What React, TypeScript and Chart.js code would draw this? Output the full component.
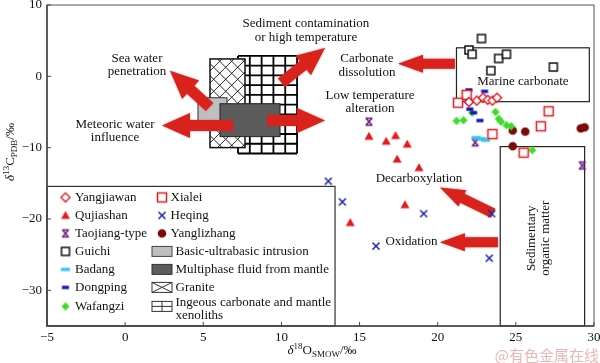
import React, { useEffect, useRef } from 'react';
import { Chart, registerables } from 'chart.js';

Chart.register(...registerables);

// ---------- axes ----------
const xTickValues = [-5, 0, 5, 10, 15, 20, 25, 30];
const yTickValues = [-30, -20, -10, 0, 10];
const X_MIN = -5, X_MAX = 30, Y_MIN = -35, Y_MAX = 10;

// ---------- series ----------
const yangjiawanX = [22.0, 22.5, 22.9, 23.2, 23.5, 23.8];
const yangjiawanY = [-3.6, -3.4, -3.0, -3.3, -3.4, -3.0];
const xialeiX = [21.85, 21.3, 23.5, 26.6, 27.1, 25.5];
const xialeiY = [-2.6, -3.7, -8.1, -7.0, -4.9, -10.7];
const qujiashanX = [15.6, 16.7, 17.3, 18.05, 17.4, 18.8, 17.9, 14.4];
const qujiashanY = [-8.4, -9.1, -8.3, -9.5, -11.6, -12.8, -18.0, -20.5];
const heqingX = [13.0, 13.9, 19.1, 23.45, 16.05, 23.3];
const heqingY = [-14.7, -17.6, -19.25, -19.25, -23.8, -25.5];
const taojiangX = [15.6, 22.4, 29.25];
const taojiangY = [-6.35, -9.25, -12.5];
const yanglizhangX = [24.8, 25.6, 24.8, 29.15, 29.4];
const yanglizhangY = [-7.6, -7.75, -9.8, -7.3, -7.15];
const guichiX = [22.8, 22.0, 22.2, 23.9, 24.4, 23.4, 27.4];
const guichiY = [5.3, 3.7, 3.1, 2.5, 3.1, 0.8, 1.3];
const badangX = [22.45, 22.8, 23.05];
const badangY = [-8.6, -8.75, -8.95];
const dongpingX = [22.0, 23.0, 21.95, 22.05, 22.3, 22.7];
const dongpingY = [-1.9, -2.1, -3.4, -4.6, -5.1, -6.2];
const wafangziX = [21.2, 21.65, 22.2, 23.7, 23.9, 24.05, 24.4, 24.7, 26.05];
const wafangziY = [-6.25, -6.15, -5.1, -5.0, -5.95, -6.35, -6.85, -7.0, -10.35];

// ---------- field regions (x1, x2, y1, y2) in data units ----------
const igneousRegion = [7.22, 11.0, 2.86, -10.82];
const graniteRegion = [5.43, 7.67, 2.44, -9.99];
const basicRegion = [4.66, 6.52, -3.0, -6.49];
const multiphaseRegion = [6.07, 9.91, -3.84, -8.45];
const marineRegion = [21.2, 29.7, 4.0, -3.55];
const sedimentRegion = [24.0, 29.4, -9.85, -35];
const legendRegion = [-5, 13.43, -15.43, -35];

// ---------- arrows: tail (x1,y1) -> tip (x2,y2) ----------
const arrowTailX = [5.4, 6.9, 10.0, 9.1, 21.1, 23.55, 23.85];
const arrowTailY = [-4.3, -6.9, -0.9, -6.2, 1.75, -19.2, -23.25];
const arrowTipX = [2.87, 2.36, 12.79, 12.79, 17.46, 20.14, 20.14];
const arrowTipY = [0.77, -6.9, 3.98, -6.2, 1.75, -15.57, -23.25];
const arrowBig = [true, true, true, true, false, false, false];

// ---------- annotation labels ----------
const noteLines = [
  ['Sea water', 'penetration'],
  ['Meteoric water', 'influence'],
  ['Sediment contamination', 'or high temperature'],
  ['Carbonate', 'dissolution'],
  ['Low temperature', 'alteration'],
  ['Decarboxylation'],
  ['Oxidation'],
  ['Marine carbonate'],
];
const noteX = [0.76, -0.65, 11.57, 15.47, 15.67, 18.8, 18.32, 25.45];
const noteY = [1.6, -7.68, 6.42, 1.54, -3.63, -14.3, -23.1, -0.77];
const sedimentNote = ['Sedimentary', 'organic matter'];
const sedimentNoteX = 26.48, sedimentNoteY = -22.7;

// ---------- legend ----------
const legendCol1 = ['Yangjiawan', 'Qujiashan', 'Taojiang-type', 'Guichi', 'Badang', 'Dongping', 'Wafangzi'];
const legendCol2 = ['Xialei', 'Heqing', 'Yanglizhang'];
const legendPatches = ['Basic-ultrabasic intrusion', 'Multiphase fluid from mantle', 'Granite'];
const legendLast = ['Ingeous carbonate and mantle', 'xenoliths'];

const SERIF = '"Liberation Serif", "Times New Roman", serif';
const RED = '#e31b1f';

function mk(draw: (g: CanvasRenderingContext2D) => void) {
  const c = document.createElement('canvas');
  c.width = 14; c.height = 14;
  const g = c.getContext('2d')!;
  draw(g);
  return c;
}

function makeMarkers() {
  return {
    yangjiawan: mk(g => {
      g.beginPath(); g.moveTo(7, 2.5); g.lineTo(11.5, 7); g.lineTo(7, 11.5); g.lineTo(2.5, 7); g.closePath();
      g.fillStyle = '#fff'; g.fill(); g.lineWidth = 1.4; g.strokeStyle = RED; g.stroke();
    }),
    xialei: mk(g => {
      g.fillStyle = '#fff'; g.fillRect(2.5, 2.5, 9, 9);
      g.lineWidth = 1.5; g.strokeStyle = RED; g.strokeRect(2.5, 2.5, 9, 9);
    }),
    qujiashan: mk(g => {
      g.beginPath(); g.moveTo(7, 2.5); g.lineTo(11.5, 10.5); g.lineTo(2.5, 10.5); g.closePath();
      g.fillStyle = RED; g.fill();
    }),
    heqing: mk(g => {
      g.beginPath(); g.moveTo(3.5, 3.5); g.lineTo(10.5, 10.5); g.moveTo(10.5, 3.5); g.lineTo(3.5, 10.5);
      g.lineWidth = 1.6; g.strokeStyle = '#1c2aa6'; g.stroke();
    }),
    taojiang: mk(g => {
      g.beginPath();
      g.moveTo(4, 3.5); g.lineTo(10, 10.5); g.moveTo(10, 3.5); g.lineTo(4, 10.5);
      g.moveTo(3.5, 3.5); g.lineTo(10.5, 3.5); g.moveTo(3.5, 10.5); g.lineTo(10.5, 10.5);
      g.lineWidth = 1.6; g.strokeStyle = '#6d1f7e'; g.stroke();
    }),
    yanglizhang: mk(g => {
      g.beginPath(); g.arc(7, 7, 4.3, 0, Math.PI * 2); g.fillStyle = '#7a0b0b'; g.fill();
    }),
    guichi: mk(g => {
      g.fillStyle = '#fff'; g.fillRect(3, 3, 8, 8);
      g.lineWidth = 1.5; g.strokeStyle = '#111'; g.strokeRect(3, 3, 8, 8);
    }),
    badang: mk(g => { g.fillStyle = '#38c4ee'; g.fillRect(2.5, 5.3, 9, 3.4); }),
    dongping: mk(g => { g.fillStyle = '#1515b8'; g.fillRect(3.5, 5.3, 7, 3.4); }),
    wafangzi: mk(g => {
      g.beginPath(); g.moveTo(7, 2.8); g.lineTo(11, 7); g.lineTo(7, 11.2); g.lineTo(3, 7); g.closePath();
      g.fillStyle = '#3ddc2a'; g.fill();
    }),
  };
}

function fmt(v: number) {
  return v < 0 ? '\u2212' + Math.abs(v) : String(v);
}

type Seg = { t: string; size: number; dy: number; italic?: boolean };

function drawRich(ctx: CanvasRenderingContext2D, segs: Seg[], cx: number, cy: number) {
  let total = 0;
  const widths = segs.map(s => {
    ctx.font = `${s.italic ? 'italic ' : ''}${s.size}px ${SERIF}`;
    const w = ctx.measureText(s.t).width;
    total += w;
    return w;
  });
  let x = cx - total / 2;
  ctx.textAlign = 'left';
  ctx.textBaseline = 'alphabetic';
  segs.forEach((s, i) => {
    ctx.font = `${s.italic ? 'italic ' : ''}${s.size}px ${SERIF}`;
    ctx.fillText(s.t, x, cy + s.dy);
    x += widths[i];
  });
}

function drawArrow(ctx: CanvasRenderingContext2D, x1: number, y1: number, x2: number, y2: number,
  shaft: number, headW: number, headL: number) {
  const dx = x2 - x1, dy = y2 - y1, len = Math.hypot(dx, dy);
  const ux = dx / len, uy = dy / len, nx = -uy, ny = ux;
  const bx = x2 - ux * headL, by = y2 - uy * headL;
  ctx.beginPath();
  ctx.moveTo(x1 + nx * shaft / 2, y1 + ny * shaft / 2);
  ctx.lineTo(bx + nx * shaft / 2, by + ny * shaft / 2);
  ctx.lineTo(bx + nx * headW / 2, by + ny * headW / 2);
  ctx.lineTo(x2, y2);
  ctx.lineTo(bx - nx * headW / 2, by - ny * headW / 2);
  ctx.lineTo(bx - nx * shaft / 2, by - ny * shaft / 2);
  ctx.lineTo(x1 - nx * shaft / 2, y1 - ny * shaft / 2);
  ctx.closePath();
  ctx.fill();
}

export default function App() {
  const ref = useRef<HTMLCanvasElement | null>(null);

  useEffect(() => {
    const canvas = ref.current!;
    const M = makeMarkers();

    const mkData = (xs: number[], ys: number[]) => xs.map((x, i) => ({ x, y: ys[i] }));
    const ds = (label: string, xs: number[], ys: number[], style: HTMLCanvasElement) => ({
      label, data: mkData(xs, ys), pointStyle: style, showLine: false,
    });

    const rectPx = (chart: any, r: number[]) => {
      const xs = chart.scales.x, ys = chart.scales.y;
      const a = xs.getPixelForValue(r[0]), b = xs.getPixelForValue(r[1]);
      const c = ys.getPixelForValue(r[2]), d = ys.getPixelForValue(r[3]);
      return { x: Math.min(a, b), y: Math.min(c, d), w: Math.abs(b - a), h: Math.abs(d - c) };
    };

    const drawGrid = (ctx: CanvasRenderingContext2D, x: number, y: number, w: number, h: number, cols: number, rows: number, lw: number) => {
      ctx.fillStyle = '#fff';
      ctx.fillRect(x, y, w, h);
      ctx.strokeStyle = '#000';
      ctx.lineWidth = lw;
      ctx.beginPath();
      for (let i = 0; i <= cols; i++) { const xx = x + (w * i) / cols; ctx.moveTo(xx, y); ctx.lineTo(xx, y + h); }
      for (let j = 0; j <= rows; j++) { const yy = y + (h * j) / rows; ctx.moveTo(x, yy); ctx.lineTo(x + w, yy); }
      ctx.stroke();
    };

    const drawHatch = (ctx: CanvasRenderingContext2D, x: number, y: number, w: number, h: number, sp: number) => {
      ctx.save();
      ctx.fillStyle = '#fff';
      ctx.fillRect(x, y, w, h);
      ctx.beginPath(); ctx.rect(x, y, w, h); ctx.clip();
      ctx.strokeStyle = '#111'; ctx.lineWidth = 0.9;
      ctx.beginPath();
      for (let k = -h; k < w + h; k += sp) {
        ctx.moveTo(x + k, y); ctx.lineTo(x + k + h, y + h);
        ctx.moveTo(x + k, y + h); ctx.lineTo(x + k + h, y);
      }
      ctx.stroke();
      ctx.restore();
      ctx.strokeStyle = '#111'; ctx.lineWidth = 1.5;
      ctx.strokeRect(x, y, w, h);
    };

    const overlay = {
      id: 'overlay',
      beforeDatasetsDraw(chart: any) {
        const ctx: CanvasRenderingContext2D = chart.ctx;
        const sx = chart.scales.x, sy = chart.scales.y;
        ctx.save();
        let r = rectPx(chart, igneousRegion);
        drawGrid(ctx, r.x, r.y, r.w, r.h, 5, 10, 1.8);
        r = rectPx(chart, graniteRegion);
        drawHatch(ctx, r.x, r.y, r.w, r.h, 12);
        r = rectPx(chart, basicRegion);
        ctx.fillStyle = '#bfbfbf'; ctx.fillRect(r.x, r.y, r.w, r.h);
        ctx.strokeStyle = '#333'; ctx.lineWidth = 1; ctx.strokeRect(r.x, r.y, r.w, r.h);
        r = rectPx(chart, multiphaseRegion);
        ctx.fillStyle = '#5c5c5c'; ctx.fillRect(r.x, r.y, r.w, r.h);
        ctx.strokeStyle = '#222'; ctx.lineWidth = 1; ctx.strokeRect(r.x, r.y, r.w, r.h);
        ctx.strokeStyle = '#222'; ctx.lineWidth = 1.2;
        r = rectPx(chart, marineRegion);
        ctx.strokeRect(r.x, r.y, r.w, r.h);
        r = rectPx(chart, sedimentRegion);
        ctx.strokeRect(r.x, r.y, r.w, r.h);
        ctx.fillStyle = '#d9221c';
        ctx.shadowColor = 'rgba(200,30,30,0.55)';
        ctx.shadowBlur = 2;
        arrowTailX.forEach((_, i) => {
          const x1 = sx.getPixelForValue(arrowTailX[i]), y1 = sy.getPixelForValue(arrowTailY[i]);
          const x2 = sx.getPixelForValue(arrowTipX[i]), y2 = sy.getPixelForValue(arrowTipY[i]);
          if (arrowBig[i]) drawArrow(ctx, x1, y1, x2, y2, 11, 25, 28);
          else drawArrow(ctx, x1, y1, x2, y2, 10, 18, 25);
        });
        ctx.restore();
      },
      afterDatasetsDraw(chart: any) {
        const ctx: CanvasRenderingContext2D = chart.ctx;
        const sx = chart.scales.x, sy = chart.scales.y;
        const ca = chart.chartArea;
        ctx.save();
        ctx.fillStyle = '#111';
        ctx.font = `13px ${SERIF}`;
        ctx.textAlign = 'center';
        ctx.textBaseline = 'middle';
        noteLines.forEach((lines, i) => {
          const cx = sx.getPixelForValue(noteX[i]), cy = sy.getPixelForValue(noteY[i]);
          const n = lines.length;
          lines.forEach((t, j) => ctx.fillText(t, cx, cy + (j - (n - 1) / 2) * 13.5));
        });
        ctx.save();
        ctx.translate(sx.getPixelForValue(sedimentNoteX), sy.getPixelForValue(sedimentNoteY));
        ctx.rotate(-Math.PI / 2);
        sedimentNote.forEach((t, j) => ctx.fillText(t, 0, (j - 0.5) * 14));
        ctx.restore();

        // legend
        const L = rectPx(chart, legendRegion);
        ctx.fillStyle = '#fff';
        ctx.fillRect(L.x, L.y, L.w, L.h);
        ctx.strokeStyle = '#333'; ctx.lineWidth = 1.2;
        ctx.strokeRect(L.x, L.y, L.w, L.h);
        const rowY = [11, 29, 47, 65, 83, 101, 120].map(v => L.y + v);
        const c1m = L.x + 18.5, c1t = L.x + 28, c2m = L.x + 115, c2t = L.x + 123.5, c2p = L.x + 105, c2pt = L.x + 128.5;
        const col1Markers = [M.yangjiawan, M.qujiashan, M.taojiang, M.guichi, M.badang, M.dongping, M.wafangzi];
        const col2Markers = [M.xialei, M.heqing, M.yanglizhang];
        ctx.textAlign = 'left';
        ctx.textBaseline = 'middle';
        ctx.fillStyle = '#111';
        ctx.font = `13px ${SERIF}`;
        legendCol1.forEach((t, i) => {
          ctx.drawImage(col1Markers[i], c1m - 7, rowY[i] - 7);
          ctx.fillText(t, c1t, rowY[i]);
        });
        legendCol2.forEach((t, i) => {
          ctx.drawImage(col2Markers[i], c2m - 7, rowY[i] - 7);
          ctx.fillText(t, c2t, rowY[i]);
        });
        const pw = 20, ph = 10;
        let py = rowY[3] - ph / 2;
        ctx.fillStyle = '#bfbfbf'; ctx.fillRect(c2p, py, pw, ph);
        ctx.strokeStyle = '#444'; ctx.lineWidth = 1; ctx.strokeRect(c2p, py, pw, ph);
        py = rowY[4] - ph / 2;
        ctx.fillStyle = '#5c5c5c'; ctx.fillRect(c2p, py, pw, ph);
        ctx.strokeStyle = '#333'; ctx.strokeRect(c2p, py, pw, ph);
        py = rowY[5] - ph / 2;
        ctx.fillStyle = '#fff'; ctx.fillRect(c2p, py, pw, ph);
        ctx.strokeStyle = '#333'; ctx.strokeRect(c2p, py, pw, ph);
        ctx.beginPath(); ctx.moveTo(c2p, py); ctx.lineTo(c2p + pw, py + ph); ctx.moveTo(c2p + pw, py); ctx.lineTo(c2p, py + ph); ctx.stroke();
        py = rowY[6] - ph / 2;
        ctx.fillStyle = '#fff'; ctx.fillRect(c2p, py, pw, ph);
        ctx.strokeStyle = '#333'; ctx.strokeRect(c2p, py, pw, ph);
        ctx.beginPath(); ctx.moveTo(c2p + pw / 2, py); ctx.lineTo(c2p + pw / 2, py + ph); ctx.moveTo(c2p, py + ph / 2); ctx.lineTo(c2p + pw, py + ph / 2); ctx.stroke();
        ctx.fillStyle = '#111';
        legendPatches.forEach((t, i) => ctx.fillText(t, c2pt, rowY[3 + i]));
        ctx.fillText(legendLast[0], c2pt, rowY[6] - 4);
        ctx.fillText(legendLast[1], c2pt, rowY[6] + 9);

        // frame
        ctx.strokeStyle = '#555'; ctx.lineWidth = 1;
        ctx.strokeRect(ca.left, ca.top, ca.right - ca.left, ca.bottom - ca.top);
        ctx.strokeStyle = '#444'; ctx.lineWidth = 1.5;
        ctx.beginPath();
        ctx.moveTo(ca.left, ca.top); ctx.lineTo(ca.left, ca.bottom); ctx.lineTo(ca.right, ca.bottom);
        ctx.stroke();
        ctx.lineWidth = 1;
        ctx.beginPath();
        xTickValues.forEach(v => {
          const x = sx.getPixelForValue(v);
          ctx.moveTo(x, ca.bottom); ctx.lineTo(x, ca.bottom - 4);
        });
        yTickValues.forEach(v => {
          const y = sy.getPixelForValue(v);
          ctx.moveTo(ca.left, y); ctx.lineTo(ca.left + 4, y);
        });
        ctx.stroke();

        // axis titles
        ctx.fillStyle = '#111';
        drawRich(ctx, [
          { t: '\u03b4', size: 13, dy: 0, italic: true },
          { t: '18', size: 9, dy: -5 },
          { t: 'O', size: 13, dy: 0 },
          { t: 'SMOW', size: 9, dy: 3 },
          { t: '/\u2030', size: 13, dy: 0 },
        ], 322, 354);
        ctx.save();
        ctx.translate(14, 152);
        ctx.rotate(-Math.PI / 2);
        drawRich(ctx, [
          { t: '\u03b4', size: 13, dy: 0, italic: true },
          { t: '13', size: 9, dy: -5 },
          { t: 'C', size: 13, dy: 0 },
          { t: 'PDB', size: 9, dy: 3 },
          { t: '/\u2030', size: 13, dy: 0 },
        ], 0, 0);
        ctx.restore();

        // watermark
        ctx.font = `15px "Noto Sans CJK SC", sans-serif`;
        ctx.fillStyle = 'rgba(228,150,150,0.7)';
        ctx.textAlign = 'right';
        ctx.textBaseline = 'middle';
        ctx.fillText('@有色金属在线', 599, 355);
        ctx.restore();
      },
    };

    const chart = new Chart(canvas, {
      type: 'scatter',
      data: {
        datasets: [
          ds('Yangjiawan', yangjiawanX, yangjiawanY, M.yangjiawan),
          ds('Xialei', xialeiX, xialeiY, M.xialei),
          ds('Guichi', guichiX, guichiY, M.guichi),
          ds('Dongping', dongpingX, dongpingY, M.dongping),
          ds('Badang', badangX, badangY, M.badang),
          ds('Wafangzi', wafangziX, wafangziY, M.wafangzi),
          ds('Yanglizhang', yanglizhangX, yanglizhangY, M.yanglizhang),
          ds('Qujiashan', qujiashanX, qujiashanY, M.qujiashan),
          ds('Heqing', heqingX, heqingY, M.heqing),
          ds('Taojiang-type', taojiangX, taojiangY, M.taojiang),
        ] as any,
      },
      options: {
        responsive: false,
        animation: false,
        events: [],
        layout: { padding: { top: 4, right: 6, left: 0, bottom: 0 } },
        plugins: { legend: { display: false }, tooltip: { enabled: false } },
        scales: {
          x: {
            type: 'linear', min: X_MIN, max: X_MAX,
            grid: { display: false, drawTicks: false },
            border: { display: false },
            ticks: { padding: 4, color: '#111', font: { family: SERIF, size: 13 }, callback: (v: any) => fmt(Number(v)) },
            afterBuildTicks: (s: any) => { s.ticks = xTickValues.map(v => ({ value: v })); },
            afterFit: (s: any) => { s.height = 37; s.paddingLeft = 0; s.paddingRight = 0; },
          },
          y: {
            type: 'linear', min: Y_MIN, max: Y_MAX,
            grid: { display: false, drawTicks: false },
            border: { display: false },
            ticks: { padding: 5, color: '#111', font: { family: SERIF, size: 13 }, callback: (v: any) => fmt(Number(v)) },
            afterBuildTicks: (s: any) => { s.ticks = yTickValues.map(v => ({ value: v })); },
            afterFit: (s: any) => { s.width = 47; s.paddingTop = 0; s.paddingBottom = 0; },
          },
        },
      } as any,
      plugins: [overlay],
    });
    return () => chart.destroy();
  }, []);

  return (
    <canvas
      ref={ref}
      width={600}
      height={363}
      style={{ position: 'absolute', left: 0, top: 0, width: 600, height: 363, display: 'block' }}
    />
  );
}
